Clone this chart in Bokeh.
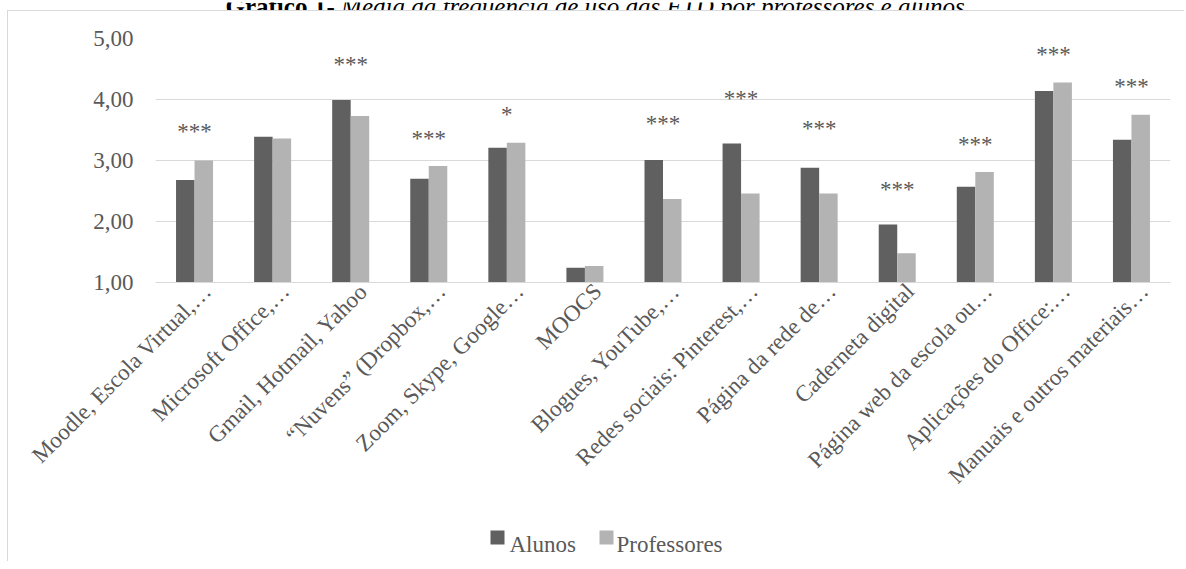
import math
from bokeh.plotting import figure
from bokeh.layouts import column
from bokeh.models import Range1d, FixedTicker, ColumnDataSource
from bokeh.core.properties import value
from bokeh.embed import file_html
from bokeh.resources import INLINE

# ---------------- data ----------------
categories = [
    "Moodle, Escola Virtual,…",
    "Microsoft Office,…",
    "Gmail, Hotmail, Yahoo",
    "“Nuvens” (Dropbox,…",
    "Zoom, Skype, Google…",
    "MOOCS",
    "Blogues, YouTube,…",
    "Redes sociais: Pinterest,…",
    "Página da rede de…",
    "Caderneta digital",
    "Página web da escola ou…",
    "Aplicações do Office:…",
    "Manuais e outros materiais…",
]
alunos = [2.68, 3.39, 3.99, 2.70, 3.21, 1.24, 3.01, 3.28, 2.88, 1.95, 2.57, 4.14, 3.34]
professores = [3.00, 3.36, 3.73, 2.91, 3.29, 1.27, 2.37, 2.46, 2.46, 1.48, 2.81, 4.28, 3.75]
significance = ["***", "", "***", "***", "*", "", "***", "***", "***", "***", "***", "***", "***"]
significance_y = [3.47, None, 4.57, 3.36, 3.75, None, 3.60, 4.01, 3.52, 2.52, 3.27, 4.73, 4.21]
series_names = ["Alunos", "Professores"]
y_ticks = [1, 2, 3, 4, 5]
y_tick_labels = ["1,00", "2,00", "3,00", "4,00", "5,00"]
title_bold = "Gráfico 1"
title_rest = " - Média da frequência de uso das FTD por professores e alunos"

# ---------------- style ----------------
FONT = "Liberation Serif"
TXT = "#595959"
DARK = "#606060"
LIGHT = "#b3b3b3"
GRID = "#d9d9d9"
BAR_W = 0.237
LABEL_SHIFT = 0.165   # Excel anchors rotated labels a little right of the centre
W = 1184
FRAME_L, FRAME_R = 155, 1170   # plot frame, page pixels (strips are aligned to it)


def bare(fig):
    fig.outline_line_color = None
    fig.background_fill_alpha = 0
    fig.border_fill_alpha = 0
    fig.xgrid.grid_line_color = None
    fig.ygrid.grid_line_color = None
    return fig


# ---------------- title strip (cut at the top, as in the reference) ----------------
t = bare(figure(width=W, height=10, x_range=Range1d(FRAME_L, FRAME_R),
                y_range=Range1d(10, 0),
                x_axis_location=None, y_axis_location=None,
                output_backend="svg", toolbar_location=None, min_border=0))
t.text(x=[225], y=[4.2], text=[title_bold], text_font=value(FONT),
       text_font_size="25px", text_font_style="bold", text_color="black",
       text_baseline="alphabetic")
t.text(x=[326], y=[4.2], text=[title_rest], text_font=value(FONT),
       text_font_size="25px", text_font_style="italic", text_color="black",
       text_baseline="alphabetic")

# ---------------- main chart ----------------
n = len(categories)
centers = [i + 0.5 for i in range(n)]

p = figure(frame_width=FRAME_R - FRAME_L, frame_height=244,
           x_range=Range1d(0, n), y_range=Range1d(1, 5),
           output_backend="svg", toolbar_location=None,
           min_border_left=FRAME_L, min_border_right=W - FRAME_R,
           min_border_top=28, min_border_bottom=230)
p.outline_line_color = None
p.background_fill_color = "white"
p.border_fill_alpha = 0

src = ColumnDataSource(dict(
    cat=categories,
    x_al=[c - BAR_W / 2 for c in centers],
    x_pr=[c + BAR_W / 2 for c in centers],
    alunos=alunos, professores=professores))
p.vbar(x="x_al", top="alunos", bottom=1, width=BAR_W, source=src,
       fill_color=DARK, line_color=None)
p.vbar(x="x_pr", top="professores", bottom=1, width=BAR_W, source=src,
       fill_color=LIGHT, line_color=None)

star_x = [c for c, s in zip(centers, significance) if s]
star_y = [y for y, s in zip(significance_y, significance) if s]
star_txt = [s for s in significance if s]
star_src = ColumnDataSource(dict(x=star_x, y=star_y, text=star_txt))
p.text(x="x", y="y", text="text", source=star_src,
       text_align="center", text_baseline="alphabetic",
       text_font=value(FONT), text_font_size="23px", text_color=TXT)

p.xgrid.grid_line_color = None
p.ygrid.grid_line_color = GRID
p.ygrid.grid_line_width = 1

p.yaxis.ticker = FixedTicker(ticks=y_ticks)
p.yaxis.major_label_overrides = dict(zip(y_ticks, y_tick_labels))
p.yaxis.axis_line_color = None
p.yaxis.major_tick_line_color = None
p.yaxis.minor_tick_line_color = None
p.yaxis.major_tick_out = 0
p.yaxis.major_label_standoff = 22
p.yaxis.major_label_text_font = FONT
p.yaxis.major_label_text_font_size = "23px"
p.yaxis.major_label_text_color = TXT

label_pos = [c + LABEL_SHIFT for c in centers]
p.xaxis.ticker = FixedTicker(ticks=label_pos)
p.xaxis.major_label_overrides = dict(zip(label_pos, categories))
p.xaxis.axis_line_color = GRID
p.xaxis.major_tick_line_color = None
p.xaxis.minor_tick_line_color = None
p.xaxis.major_tick_out = 0
p.xaxis.major_tick_in = 0
p.xaxis.major_label_orientation = math.pi / 4
p.xaxis.major_label_standoff = 5
p.xaxis.major_label_text_font = FONT
p.xaxis.major_label_text_font_size = "23px"
p.xaxis.major_label_text_color = TXT

# ---------------- legend strip ----------------
lg = bare(figure(width=W, height=49, x_range=Range1d(FRAME_L, FRAME_R),
                 y_range=Range1d(49, 0),
                 x_axis_location=None, y_axis_location=None,
                 output_backend="svg", toolbar_location=None, min_border=0))
legend_src = ColumnDataSource(dict(
    sx=[497, 606], tx=[509, 616], label=series_names, color=[DARK, LIGHT]))
lg.rect(x="sx", y=25, width=14, height=14, source=legend_src,
        fill_color="color", line_color=None)
lg.text(x="tx", y=32, text="label", source=legend_src,
        text_font=value(FONT), text_font_size="23px", text_color=TXT,
        text_baseline="alphabetic")

layout = column(t, p, lg, spacing=0)
# light grey outer chart border (left and top edges)
layout.styles = {
    "background-color": "white",
    "background-image": f"linear-gradient({GRID}, {GRID}), linear-gradient({GRID}, {GRID})",
    "background-size": "1px 100%, 100% 1px",
    "background-position": "7px 10px, 7px 10px",
    "background-repeat": "no-repeat",
}

open("out.html", "w").write(file_html(layout, INLINE))
